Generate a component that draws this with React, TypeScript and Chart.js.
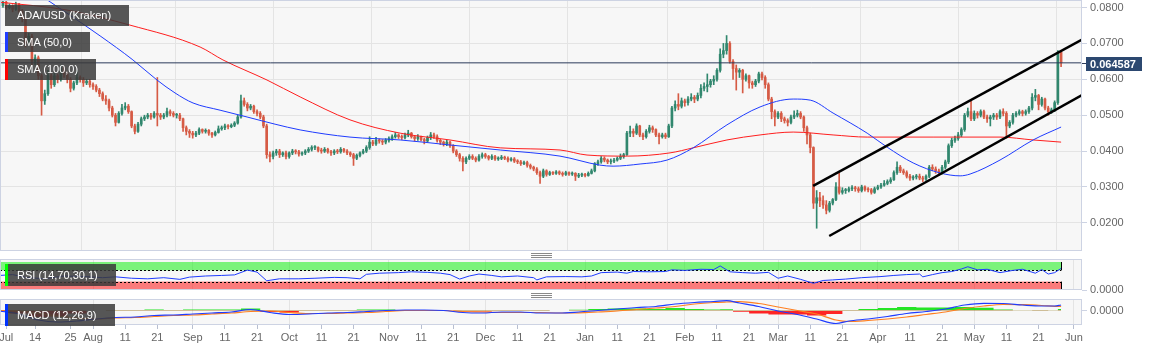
import React, { useEffect, useRef } from "react";
import { Chart, registerables } from "chart.js";

Chart.register(...registerables);

// ---------------- data (prices in 1/10000 USD, days counted from 2019-07-01) ----------------
const PRICE_UNIT = 10000;
const FIRST_DAY = 2;
const FIRST_OPEN = 800;

const closes = [
  805, 815, 800, 805, 795, 810, 790, 770, 700, 720,
  650, 660, 610, 540, 560, 610, 585, 610, 600, 630,
  615, 600, 575, 590, 605, 600, 590, 595, 585, 580,
  570, 560, 545, 540, 520, 500, 480, 505, 520, 525,
  510, 470, 455, 475, 490, 495, 500, 495, 505, 500,
  495, 500, 510, 505, 500, 500, 490, 465, 455, 450,
  445, 450, 460, 455, 458, 450, 445, 452, 462, 465,
  470, 468, 472, 478, 495, 540, 530, 520, 525, 510,
  505, 495, 470, 390, 385, 395, 400, 390, 395, 385,
  395, 400, 398, 392, 395, 400, 405, 410, 410, 402,
  400, 405, 398, 395, 400, 398, 405, 400, 395, 390,
  380, 388, 395, 400, 410, 425, 420, 430, 428, 425,
  430, 435, 440, 445, 440, 438, 445, 450, 440, 435,
  440, 432, 428, 438, 445, 440, 430, 425, 420, 425,
  415, 400, 390, 380, 370, 380, 385, 380, 375, 385,
  390, 385, 380, 385, 378, 380, 383, 380, 375, 378,
  372, 370, 365, 368, 360, 355, 350, 340, 330, 345,
  335, 340, 338, 342, 338, 335, 340, 336, 338, 330,
  333, 335, 332, 338, 345, 365, 370, 380, 375, 370,
  372, 375, 380, 385, 390, 450, 455, 450, 470, 445,
  440, 455, 465, 460, 445, 440, 445, 440, 470, 520,
  530, 525, 540, 535, 545, 550, 545, 555, 575, 580,
  585, 595, 600, 625, 670, 680, 700, 650, 630, 620,
  625, 600, 610, 590, 585, 595, 615, 605, 585, 545,
  510, 495, 505, 490, 485, 480, 495, 500, 505, 495,
  465, 445, 410, 255, 270, 262, 250, 235, 255, 265,
  300, 285, 290, 290, 295, 298, 295, 290, 300, 293,
  292, 285, 295, 300, 305, 310, 315, 320, 340, 355,
  345, 340, 330, 325, 328, 330, 325, 322, 330, 355,
  350, 345, 340, 355, 370, 415, 430, 435, 445, 460,
  500, 510, 490, 505, 500, 510, 495, 490, 495, 500,
  495, 510, 505, 470, 480, 500, 505, 510, 505, 510,
  520, 550, 555, 530, 545, 520, 510, 515, 535, 675,
  645.87,
];

const highs = [
  812, 822, 818, 810, 808, 815, 812, 795, 775, 728,
  725, 668, 665, 615, 570, 625, 615, 618, 615, 640,
  635, 620, 605, 595, 625, 610, 605, 600, 600, 590,
  585, 575, 565, 555, 545, 525, 505, 510, 530, 535,
  530, 512, 475, 480, 495, 500, 505, 505, 510, 605,
  505, 505, 520, 515, 510, 505, 505, 492, 470, 460,
  455, 455, 465, 462, 462, 460, 452, 456, 470, 470,
  475, 474, 476, 482, 500, 556, 548, 535, 530, 528,
  515, 510, 500, 475, 398, 400, 405, 405, 398, 400,
  398, 405, 404, 402, 398, 404, 410, 415, 415, 412,
  408, 410, 408, 402, 404, 405, 410, 408, 404, 398,
  394, 392, 398, 405, 415, 440, 430, 438, 434, 432,
  435, 440, 445, 452, 448, 445, 450, 458, 452, 442,
  446, 442, 436, 442, 452, 450, 445, 433, 428, 430,
  428, 418, 404, 394, 385, 384, 390, 390, 384, 390,
  395, 394, 388, 390, 388, 384, 388, 386, 384, 382,
  382, 376, 374, 372, 372, 364, 358, 354, 344, 350,
  348, 344, 343, 346, 345, 342, 344, 342, 342, 340,
  338, 339, 338, 342, 350, 368, 375, 385, 384, 378,
  378, 380, 384, 392, 394, 455, 470, 462, 476, 472,
  450, 460, 472, 470, 462, 450, 450, 450, 475, 525,
  540, 560, 548, 545, 552, 560, 555, 562, 585, 590,
  615, 600, 610, 630, 685, 700, 722, 705, 655, 640,
  630, 628, 615, 612, 595, 600, 620, 620, 610, 590,
  550, 515, 510, 510, 495, 490, 500, 512, 514, 510,
  498, 470, 450, 412, 290, 285, 275, 262, 260, 268,
  312, 340, 298, 296, 300, 304, 302, 300, 305, 303,
  298, 296, 300, 305, 310, 318, 320, 326, 345, 370,
  360, 350, 345, 335, 332, 335, 336, 330, 334, 360,
  362, 356, 350, 360, 375, 420, 436, 442, 452, 465,
  505, 520, 540, 512, 510, 515, 514, 500, 500, 505,
  505, 515, 518, 510, 485, 505, 510, 515, 514, 515,
  525, 560, 572, 558, 550, 548, 525, 520, 540, 680,
  678,
];

const lows = [
  795, 800, 795, 796, 788, 792, 785, 760, 690, 695,
  640, 640, 600, 500, 530, 555, 575, 580, 590, 595,
  605, 590, 565, 570, 585, 592, 580, 585, 578, 572,
  565, 552, 540, 530, 512, 495, 470, 478, 500, 515,
  505, 465, 448, 452, 470, 485, 490, 488, 492, 470,
  488, 490, 495, 498, 495, 492, 485, 455, 445, 438,
  436, 440, 446, 450, 450, 444, 438, 442, 450, 458,
  460, 462, 465, 468, 475, 492, 525, 512, 515, 505,
  498, 490, 465, 380, 370, 378, 388, 382, 385, 378,
  380, 390, 392, 386, 388, 390, 396, 400, 404, 398,
  394, 396, 394, 388, 390, 393, 394, 396, 390, 385,
  360, 376, 384, 392, 396, 405, 415, 416, 422, 418,
  420, 425, 430, 436, 435, 432, 434, 440, 436, 428,
  430, 428, 420, 425, 432, 435, 425, 418, 414, 415,
  410, 395, 385, 372, 345, 365, 376, 376, 370, 372,
  380, 380, 375, 376, 374, 374, 376, 376, 370, 372,
  368, 365, 360, 362, 355, 350, 345, 335, 310, 326,
  330, 332, 334, 335, 334, 330, 332, 332, 332, 318,
  326, 329, 328, 330, 336, 342, 360, 366, 370, 365,
  364, 368, 372, 376, 380, 388, 440, 440, 446, 440,
  432, 436, 450, 452, 440, 420, 436, 435, 438, 465,
  512, 515, 520, 525, 528, 540, 535, 540, 548, 568,
  565, 578, 585, 595, 620, 660, 670, 645, 600, 570,
  605, 562, 595, 575, 575, 580, 590, 598, 575, 540,
  490, 470, 490, 482, 478, 470, 476, 490, 495, 490,
  455, 420, 395, 240, 185, 245, 240, 225, 230, 250,
  262, 280, 280, 282, 286, 290, 288, 285, 286, 288,
  286, 280, 282, 292, 296, 302, 306, 310, 318, 335,
  340, 335, 325, 318, 320, 322, 320, 315, 318, 326,
  345, 338, 332, 336, 350, 365, 410, 424, 430, 440,
  455, 495, 485, 485, 492, 495, 490, 480, 470, 488,
  488, 490, 498, 436, 465, 475, 495, 500, 498, 500,
  505, 515, 540, 515, 525, 515, 500, 505, 510, 530,
  635,
];

const sma50Days = [14.5, 33.2, 43.4, 50.9, 56.5, 62.1, 70.5, 78.9, 87.6, 95.4, 110.9, 126.5, 142, 157.6, 176.2, 188.6, 192.7, 201.1, 209.5, 217.6, 228.1, 238.4, 248.7, 254, 261.1, 271.7, 277.9, 286, 294.4, 300.6, 303.7, 313, 323.3, 332];
const sma50Values = [835, 721, 654, 598, 562, 534, 514, 495, 475, 459, 439, 431, 417, 403, 386, 361, 358, 364, 375, 409, 473, 523, 545, 542, 506, 450, 411, 367, 339, 331, 336, 375, 431, 467];

const sma100Days = [2, 22.9, 42.5, 64.3, 71.4, 85.1, 95.4, 110.9, 126.5, 142, 157.6, 176.2, 184.6, 197.1, 210.4, 217.6, 228.1, 238.4, 248.7, 261.1, 271.7, 292.2, 313, 323.3, 332];
const sma100Values = [815, 793, 751, 690, 654, 598, 551, 487, 450, 431, 409, 403, 389, 386, 395, 409, 431, 445, 453, 445, 439, 439, 439, 431, 425];

const channelUpperDays = [254.9, 338.5];
const channelUpperValues = [303, 711];
const channelLowerDays = [259.9, 338.5];
const channelLowerValues = [163.4, 556];

const rsiDays = [2, 6, 10, 16, 22, 28, 34, 38, 43, 48, 53, 58, 61, 66, 71, 75, 79, 82, 85, 89, 95, 100, 106, 110, 114, 116, 120, 126, 130, 135, 139, 142, 145, 148, 151, 155, 158, 163, 168, 169, 172, 178, 183, 186, 189, 194, 197, 199, 204, 209, 211, 215, 220, 224, 226, 229, 233, 237, 241, 244, 247, 251, 255, 258, 261, 265, 270, 276, 280, 284, 288, 289, 292, 295, 298, 301, 303, 306, 309, 313, 317, 320, 324, 326, 328, 330, 332];
const rsiValues = [52, 55, 45, 40, 50, 48, 44, 47, 42, 40, 44, 38, 46, 50, 52, 54, 71, 64, 33, 40, 40, 42, 45, 44, 40, 56, 60, 62, 65, 63, 60, 55, 39, 50, 57, 52, 47, 50, 44, 36, 47, 48, 47, 50, 62, 64, 60, 66, 65, 66, 72, 70, 74, 73, 86, 65, 62, 60, 63, 42, 50, 38, 24, 34, 36, 39, 44, 48, 52, 55, 57, 47, 55, 62, 66, 75, 83, 72, 74, 62, 70, 74, 60, 73, 57, 62, 77];
const RSI_HIGH = 70;
const RSI_LOW = 30;
const RSI_TOP = 100;

const macdDays = [2, 8, 14, 20, 26, 32, 38, 44, 50, 56, 62, 68, 74, 80, 86, 92, 98, 104, 110, 116, 122, 128, 134, 140, 146, 152, 158, 164, 170, 176, 182, 188, 194, 200, 206, 212, 218, 224, 228, 232, 238, 244, 250, 256, 262, 266, 272, 278, 284, 290, 296, 302, 308, 314, 320, 326, 330, 332];
const macdValues = [-3, -21, -57, -69, -63, -51, -42, -39, -30, -27, -21, -15, -9, 6, -12, -24, -21, -15, -12, -6, 0, 3, 3, 0, -12, -15, -9, -9, -15, -15, -9, 0, 9, 18, 24, 39, 48, 54, 59, 45, 24, -3, -24, -51, -78, -63, -51, -36, -18, -6, 9, 33, 43, 42, 33, 27, 27, 33];
const signalValues = [0, -3, -18, -33, -45, -51, -45, -42, -36, -30, -27, -21, -15, -6, -3, -12, -18, -18, -15, -12, -6, 0, 0, 0, -6, -9, -12, -12, -12, -15, -14, -9, -3, 6, 15, 24, 39, 48, 51, 53, 42, 21, 0, -21, -57, -66, -60, -51, -39, -24, -9, 12, 27, 36, 35, 30, 25, 24];

const priceTicks = [200, 300, 400, 500, 600, 700, 800];
const xTickDays = [4, 13, 24, 31, 41, 51, 62, 72, 82, 92, 102, 112, 123, 133, 143, 153, 163, 173, 184, 194, 204, 215, 225, 235, 244, 254, 264, 275, 285, 295, 305, 315, 325, 336];
const xTickLabels = ["Jul", "14", "25", "Aug", "11", "21", "Sep", "11", "21", "Oct", "11", "21", "Nov", "11", "21", "Dec", "11", "21", "Jan", "11", "21", "Feb", "11", "21", "Mar", "11", "21", "Apr", "11", "21", "May", "11", "21", "Jun"];
const monthGridDays = [31, 62, 92, 123, 153, 184, 215, 244, 275, 305, 336];

// ---------------- styling ----------------
const X_MIN = 2.08;
const X_MAX = 338.5;
const AXIS_W = 71;
const FONT = "'Liberation Sans', Arial, Helvetica, sans-serif";
const UP = "#31876e";
const DOWN = "#d65b45";
const BLUE = "#1f3cff";
const RED = "#ff1f1f";
const FRAME = "#cdd3e3";
const GRID = "#e4e4e4";
const PANEL_BG = "#f7f7f7";
const LABEL = "#666666";

Chart.defaults.font.family = FONT;
Chart.defaults.font.size = 11;
Chart.defaults.color = LABEL;

const fmtPrice = (v: number, d = 4) => (v / PRICE_UNIT).toFixed(d);
const monthGrid = (ctx: any) => (ctx.tick && monthGridDays.includes(ctx.tick.value) ? GRID : "transparent");

const panelPlugin = {
  id: "panelFrame",
  beforeDraw(chart: any) {
    const { ctx, chartArea: a } = chart;
    ctx.save();
    ctx.fillStyle = PANEL_BG;
    ctx.fillRect(a.left, a.top, a.right - a.left, a.bottom - a.top);
    ctx.restore();
  },
  afterDraw(chart: any) {
    const { ctx, chartArea: a } = chart;
    ctx.save();
    ctx.strokeStyle = FRAME;
    ctx.lineWidth = 1;
    ctx.strokeRect(a.left + 0.5, a.top + 0.5, a.right - a.left - 1, a.bottom - a.top - 1);
    ctx.restore();
  },
};

const noPad = (s: any) => {
  s.paddingLeft = 0;
  s.paddingRight = 0;
  s.paddingTop = 0;
  s.paddingBottom = 0;
};

const hiddenX = () => ({
  type: "linear" as const,
  min: X_MIN,
  max: X_MAX,
  offset: false,
  afterBuildTicks: (s: any) => {
    s.ticks = xTickDays.map((v) => ({ value: v }));
  },
  ticks: { display: false },
  grid: { color: monthGrid, drawTicks: false },
  border: { display: false },
  afterFit: (s: any) => {
    s.height = 0;
    noPad(s);
  },
});

export default function App() {
  const mainRef = useRef<HTMLCanvasElement>(null);
  const rsiRef = useRef<HTMLCanvasElement>(null);
  const macdRef = useRef<HTMLCanvasElement>(null);

  useEffect(() => {
    const charts: Chart[] = [];
    const candleDays = closes.map((_, i) => FIRST_DAY + i);
    const opens = closes.map((_, i) => (i === 0 ? FIRST_OPEN : closes[i - 1]));
    const colors = closes.map((c, i) => (c >= opens[i] ? UP : DOWN));
    const bodies = closes.map((c, i) => ({ x: candleDays[i], y: [opens[i], c] }));
    const wicks = closes.map((c, i) => ({
      x: candleDays[i],
      y: [Math.min(lows[i], opens[i], c), Math.max(highs[i], opens[i], c)],
    }));
    const lastClose = closes[closes.length - 1];
    const lastDay = candleDays[candleDays.length - 1];

    const lastPricePlugin = {
      id: "lastPrice",
      afterDraw(chart: any) {
        const { ctx, chartArea: a } = chart;
        const y = Math.round(chart.scales.y.getPixelForValue(lastClose));
        ctx.save();
        ctx.strokeStyle = "#2c3b5a";
        ctx.lineWidth = 1;
        ctx.beginPath();
        ctx.moveTo(a.right, y + 0.5);
        ctx.lineTo(a.right + 4, y + 0.5);
        ctx.stroke();
        ctx.fillStyle = "#2c4870";
        ctx.fillRect(a.right + 4, y - 6, 56, 14);
        ctx.fillStyle = "#ffffff";
        ctx.font = `bold 11px ${FONT}`;
        ctx.textBaseline = "middle";
        ctx.textAlign = "left";
        ctx.fillText(fmtPrice(lastClose, 6), a.right + 8, y + 1.5);
        ctx.restore();
      },
    };

    const rsiBandPlugin = {
      id: "rsiBands",
      beforeDatasetsDraw(chart: any) {
        const { ctx, chartArea: a, scales } = chart;
        const x1 = Math.round(scales.x.getPixelForValue(lastDay));
        const yTop = scales.y.getPixelForValue(RSI_TOP);
        const yHi = scales.y.getPixelForValue(RSI_HIGH);
        const yLo = scales.y.getPixelForValue(RSI_LOW);
        const yBot = scales.y.getPixelForValue(0);
        ctx.save();
        ctx.fillStyle = "rgba(0,240,0,0.5)";
        ctx.fillRect(a.left, yTop, x1 - a.left, yHi - yTop);
        ctx.fillStyle = "rgba(255,0,0,0.5)";
        ctx.fillRect(a.left, yLo, x1 - a.left, yBot - yLo);
        ctx.strokeStyle = "#000";
        ctx.lineWidth = 1;
        ctx.setLineDash([2, 2]);
        ctx.beginPath();
        ctx.moveTo(a.left, Math.round(yHi) + 0.5);
        ctx.lineTo(x1, Math.round(yHi) + 0.5);
        ctx.moveTo(a.left, Math.round(yLo) + 0.5);
        ctx.lineTo(x1, Math.round(yLo) + 0.5);
        ctx.stroke();
        ctx.setLineDash([]);
        ctx.beginPath();
        ctx.moveTo(x1 + 0.5, yTop);
        ctx.lineTo(x1 + 0.5, yHi);
        ctx.moveTo(x1 + 0.5, yLo);
        ctx.lineTo(x1 + 0.5, yBot);
        ctx.stroke();
        ctx.restore();
      },
    };

    const rightAxis = (min: number, max: number, ticks: number[], onChart: boolean) => ({
      position: "right" as const,
      min,
      max,
      afterBuildTicks: (s: any) => {
        s.ticks = ticks.map((v) => ({ value: v }));
      },
      ticks: { callback: (v: any) => fmtPrice(Number(v)), padding: 3, color: LABEL, font: { size: 11 } },
      grid: { color: GRID, drawOnChartArea: onChart, tickLength: 5, tickColor: FRAME },
      border: { display: false },
      afterFit: (s: any) => {
        s.width = AXIS_W;
        noPad(s);
      },
    });

    const baseOptions = {
      responsive: false,
      animation: false as const,
      devicePixelRatio: 1,
      events: [] as any[],
      plugins: { legend: { display: false }, tooltip: { enabled: false } },
    };

    if (mainRef.current) {
      charts.push(
        new Chart(mainRef.current, {
          type: "bar",
          data: {
            datasets: [
              {
                type: "line",
                data: [
                  { x: X_MIN, y: lastClose },
                  { x: X_MAX, y: lastClose },
                ],
                borderColor: "#2c3b5a",
                borderWidth: 1,
                pointRadius: 0,
                order: 0,
              } as any,
              {
                type: "line",
                data: channelUpperDays.map((d, i) => ({ x: d, y: channelUpperValues[i] })),
                borderColor: "#000000",
                borderWidth: 2.5,
                pointRadius: 0,
                order: 1,
              },
              {
                type: "line",
                data: channelLowerDays.map((d, i) => ({ x: d, y: channelLowerValues[i] })),
                borderColor: "#000000",
                borderWidth: 2.5,
                pointRadius: 0,
                order: 1,
              },
              {
                type: "line",
                data: sma50Days.map((d, i) => ({ x: d, y: sma50Values[i] })),
                borderColor: BLUE,
                borderWidth: 1,
                pointRadius: 0,
                cubicInterpolationMode: "monotone",
                order: 2,
              },
              {
                type: "line",
                data: sma100Days.map((d, i) => ({ x: d, y: sma100Values[i] })),
                borderColor: RED,
                borderWidth: 1,
                pointRadius: 0,
                cubicInterpolationMode: "monotone",
                order: 2,
              },
              {
                type: "bar",
                data: bodies as any,
                backgroundColor: colors,
                barThickness: 2,
                grouped: false,
                minBarLength: 1,
                order: 3,
              },
              {
                type: "bar",
                data: wicks as any,
                backgroundColor: colors,
                barThickness: 1,
                grouped: false,
                order: 4,
              },
            ] as any,
          },
          options: {
            ...baseOptions,
            layout: { padding: 0 },
            scales: {
              x: hiddenX() as any,
              y: rightAxis(121.6, 821, priceTicks, true) as any,
            },
          } as any,
          plugins: [panelPlugin, lastPricePlugin],
        })
      );
    }

    if (rsiRef.current) {
      charts.push(
        new Chart(rsiRef.current, {
          type: "line",
          data: {
            datasets: [
              {
                data: rsiDays.map((d, i) => ({ x: d, y: rsiValues[i] })),
                borderColor: BLUE,
                borderWidth: 1,
                pointRadius: 0,
              },
            ],
          },
          options: {
            ...baseOptions,
            layout: { padding: { top: 0, bottom: 9, left: 0, right: 0 } },
            scales: {
              x: hiddenX() as any,
              y: rightAxis(0, 110.7, [0], false) as any,
            },
          } as any,
          plugins: [panelPlugin, rsiBandPlugin],
        })
      );
    }

    if (macdRef.current) {
      const hist = macdDays.map((d, i) => ({ x: d, y: macdValues[i] - signalValues[i] }));
      charts.push(
        new Chart(macdRef.current, {
          type: "line",
          data: {
            datasets: [
              {
                data: macdDays.map((d, i) => ({ x: d, y: macdValues[i] })),
                borderColor: BLUE,
                borderWidth: 1.2,
                pointRadius: 0,
                cubicInterpolationMode: "monotone",
                order: 1,
              },
              {
                data: macdDays.map((d, i) => ({ x: d, y: signalValues[i] })),
                borderColor: "#ff7f1f",
                borderWidth: 1.2,
                pointRadius: 0,
                cubicInterpolationMode: "monotone",
                order: 1,
              },
              {
                data: hist,
                borderWidth: 0,
                borderColor: "transparent",
                pointRadius: 0,
                stepped: "middle",
                fill: { target: "origin", above: "rgba(0,225,0,0.85)", below: "rgba(255,0,0,0.85)" },
                order: 2,
              },
            ] as any,
          },
          options: {
            ...baseOptions,
            layout: { padding: 0 },
            scales: {
              x: {
                type: "linear",
                min: X_MIN,
                max: X_MAX,
                offset: false,
                afterBuildTicks: (s: any) => {
                  s.ticks = xTickDays.map((v) => ({ value: v }));
                },
                ticks: {
                  autoSkip: false,
                  maxRotation: 0,
                  minRotation: 0,
                  padding: 2,
                  color: LABEL,
                  font: { size: 11 },
                  callback: (v: any) => {
                    const i = xTickDays.indexOf(Number(v));
                    return i >= 0 ? xTickLabels[i] : "";
                  },
                },
                grid: { color: monthGrid, drawTicks: true, tickLength: 4, tickColor: "#b8bfd0" },
                border: { display: false },
                afterFit: (s: any) => {
                  s.height = 26;
                  noPad(s);
                },
              },
              y: rightAxis(-87, 69, [0], false) as any,
            },
          } as any,
          plugins: [panelPlugin],
        })
      );
    }

    return () => charts.forEach((c) => c.destroy());
  }, []);

  const legendBox = (text: string, top: number, width: number, height: number, strip?: string) => (
    <div
      style={{
        position: "absolute",
        left: 5,
        top,
        width,
        height,
        background: "rgba(58,58,58,0.85)",
        color: "#ffffff",
        fontSize: 11,
        lineHeight: `${height}px`,
        paddingLeft: 12,
        boxSizing: "border-box",
        whiteSpace: "nowrap",
        zIndex: 5,
      }}
    >
      {strip && (
        <div style={{ position: "absolute", left: 0, top: 0, width: 3, height, background: strip }} />
      )}
      {text}
    </div>
  );

  const splitter = (top: number) => (
    <div style={{ position: "absolute", left: 531, top, width: 21, height: 5, zIndex: 4 }}>
      {[0, 2, 4].map((o) => (
        <div key={o} style={{ position: "absolute", left: 0, top: o, width: 21, height: 1, background: "#8a8a8a" }} />
      ))}
    </div>
  );

  return (
    <div
      style={{
        position: "fixed",
        left: 0,
        top: 0,
        width: 1153,
        height: 351,
        background: "#ffffff",
        overflow: "hidden",
        fontFamily: FONT,
      }}
    >
      <canvas ref={mainRef} width={1153} height={251} style={{ position: "absolute", left: 0, top: 0, width: 1153, height: 251 }} />
      <canvas ref={rsiRef} width={1153} height={40} style={{ position: "absolute", left: 0, top: 259, width: 1153, height: 40 }} />
      <canvas ref={macdRef} width={1153} height={52} style={{ position: "absolute", left: 0, top: 299, width: 1153, height: 52 }} />
      {splitter(253)}
      {splitter(293)}
      {legendBox("ADA/USD (Kraken)", 5, 124, 21)}
      {legendBox("SMA (50,0)", 32, 85, 20, "#1f3cff")}
      {legendBox("SMA (100,0)", 59, 91, 21, "#ff0000")}
      {legendBox("RSI (14,70,30,1)", 264, 111, 22, "#00ff00")}
      {legendBox("MACD (12,26,9)", 304, 110, 22, "#0033ff")}
    </div>
  );
}
